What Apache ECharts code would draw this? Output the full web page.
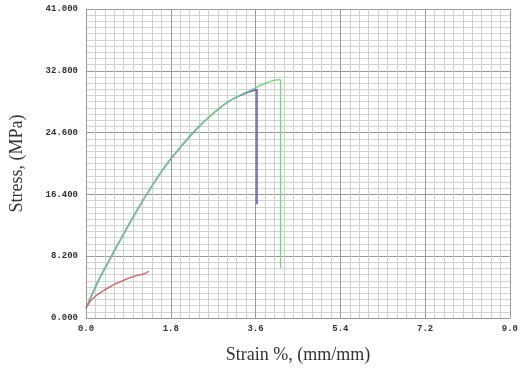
<!DOCTYPE html>
<html><head><meta charset="utf-8">
<script src="https://cdn.jsdelivr.net/npm/echarts@6/dist/echarts.min.js"></script>
<style>html,body{margin:0;padding:0;background:#fff}#c{width:521px;height:369px}</style>
</head><body><div id="c"></div>
<script>
// Strain (%) and stress (MPa) samples
const greenStrain = [0.0, 0.25, 0.55, 0.9, 1.2, 1.49, 1.75, 2.01, 2.35, 2.71, 3.1, 3.55, 3.8, 4.05, 4.13, 4.13];
const greenStress = [1.3, 4.8, 8.3, 12.3, 15.5, 18.4, 20.7, 22.7, 25.1, 27.2, 29.0, 30.4, 31.1, 31.6, 31.6, 6.6];
const purpleStrain = [0.0, 0.25, 0.55, 0.9, 1.2, 1.49, 1.75, 2.01, 2.35, 2.71, 3.1, 3.45, 3.63, 3.63];
const purpleStress = [1.3, 4.8, 8.3, 12.3, 15.5, 18.4, 20.7, 22.7, 25.1, 27.2, 29.0, 30.0, 30.3, 15.1];
const redStrain = [0.0, 0.1, 0.2, 0.34, 0.55, 0.76, 1.0, 1.24, 1.34];
const redStress = [1.3, 2.3, 2.9, 3.5, 4.3, 4.9, 5.5, 5.9, 6.2];
const xTicks = ['0.0', '1.8', '3.6', '5.4', '7.2', '9.0'];
const yTicks = ['0.000', '8.200', '16.400', '24.600', '32.800', '41.000'];

const zip = (a, b) => a.map((v, i) => [v, b[i]]);
const chart = echarts.init(document.getElementById('c'));
const labelFont = {fontFamily: 'Liberation Mono', fontWeight: 'bold', fontSize: 9, color: '#333'};
chart.setOption({
  animation: false,
  backgroundColor: '#fff',
  grid: {left: 84, right: 8, top: 9, bottom: 49},
  xAxis: {
    type: 'value', min: 0, max: 9, interval: 1.8,
    name: 'Strain %, (mm/mm)', nameLocation: 'middle', nameGap: 28,
    nameTextStyle: {fontFamily: 'Liberation Serif', fontSize: 18, color: '#333'},
    axisLine: {show: true, lineStyle: {color: '#999'}},
    axisTick: {show: false},
    axisLabel: Object.assign({margin: 6, formatter: (v) => xTicks[Math.round(v / 1.8)] || ''}, labelFont),
    splitLine: {show: true, lineStyle: {color: '#9a9a9a', width: 1}},
    minorTick: {show: false, splitNumber: 9},
    minorSplitLine: {show: true, lineStyle: {color: '#cfcfcf', width: 1}}
  },
  yAxis: {
    type: 'value', min: 0, max: 41, interval: 8.2,
    name: 'Stress, (MPa)', nameLocation: 'middle', nameGap: 60,
    nameTextStyle: {fontFamily: 'Liberation Serif', fontSize: 18, color: '#333'},
    axisLine: {show: true, lineStyle: {color: '#999'}},
    axisTick: {show: false},
    axisLabel: Object.assign({margin: 8, formatter: (v) => yTicks[Math.round(v / 8.2)] || ''}, labelFont),
    splitLine: {show: true, lineStyle: {color: '#9a9a9a', width: 1}},
    minorTick: {show: false, splitNumber: 10},
    minorSplitLine: {show: true, lineStyle: {color: '#d4d4d4', width: 1}}
  },
  series: [
    {type: 'line', data: zip(purpleStrain, purpleStress), showSymbol: false, smooth: 0.3,
     lineStyle: {color: '#6b57c8', width: 1.6}, z: 3},
    {type: 'line', data: zip(greenStrain, greenStress), showSymbol: false, smooth: 0.3,
     lineStyle: {color: '#66e07c', width: 1.3}, z: 4},
    {type: 'line', data: zip(redStrain, redStress), showSymbol: false, smooth: 0.3,
     lineStyle: {color: '#e05a5a', width: 1.3}, z: 4}
  ]
});
</script></body></html>
